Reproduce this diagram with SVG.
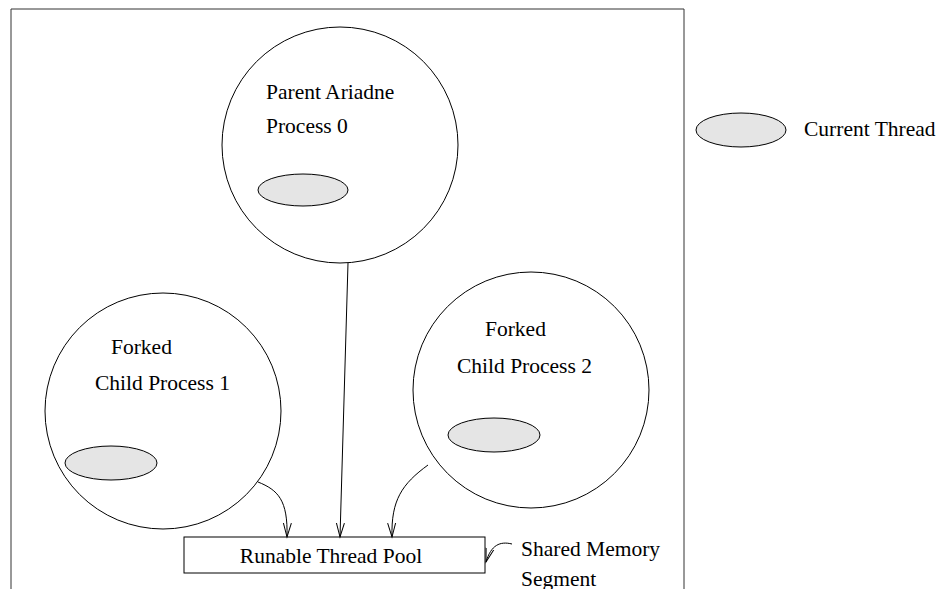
<svg xmlns="http://www.w3.org/2000/svg" width="939" height="589" viewBox="0 0 939 589">
  <defs>
    <style>
      .proc { fill: none; stroke: #000; stroke-width: 1; }
      .thread { fill: #e5e5e5; stroke: #000; stroke-width: 1; }
      .lbl { font-size: 21.5px; fill: #000; }
      .conn { fill: none; stroke: #000; stroke-width: 1; }
    </style>
    <marker id="arrowV" markerWidth="16" markerHeight="10" refX="14" refY="5" orient="auto" markerUnits="userSpaceOnUse">
      <path d="M0,1 L14,5 L0,9" fill="none" stroke="#000" stroke-width="1"/>
    </marker>
  </defs>

  <rect width="939" height="589" fill="#fff"/>

  <!-- outer frame (open at the bottom) -->
  <g id="frame">
    <path d="M11,589 L11,9 L684,9 L684,589" fill="none" stroke="#333" stroke-width="1"/>
  </g>

  <g font-family="'Liberation Serif', 'Times New Roman', Times, serif">
    <g id="parent">
      <circle class="proc" cx="340" cy="145" r="118"/>
      <text class="lbl" x="266" y="99">Parent Ariadne</text>
      <text class="lbl" x="266" y="133">Process 0</text>
      <ellipse class="thread" cx="303" cy="190" rx="45" ry="16"/>
    </g>

    <g id="child1">
      <circle class="proc" cx="163" cy="411" r="118"/>
      <text class="lbl" x="111" y="354">Forked</text>
      <text class="lbl" x="95" y="390">Child Process 1</text>
      <ellipse class="thread" cx="111" cy="463" rx="46" ry="17"/>
    </g>

    <g id="child2">
      <circle class="proc" cx="531" cy="390" r="118"/>
      <text class="lbl" x="485" y="336">Forked</text>
      <text class="lbl" x="457" y="373">Child Process 2</text>
      <ellipse class="thread" cx="494" cy="435" rx="46" ry="17"/>
    </g>

    <g id="pool">
      <rect x="184" y="537" width="301" height="36" fill="#fff" stroke="#000" stroke-width="1"/>
      <text class="lbl" x="331" y="563" text-anchor="middle">Runable Thread Pool</text>
    </g>

    <g id="shared-memory">
      <text class="lbl" x="521" y="556">Shared Memory</text>
      <text class="lbl" x="521" y="586">Segment</text>
    </g>

    <g id="legend">
      <ellipse class="thread" cx="741" cy="130" rx="45" ry="17"/>
      <text class="lbl" x="804" y="136">Current Thread</text>
    </g>
  </g>

  <g id="connectors">
    <path class="conn" d="M348,263 L340,537" marker-end="url(#arrowV)"/>
    <path class="conn" d="M258,482 C278,490 288,500 287,537" marker-end="url(#arrowV)"/>
    <path class="conn" d="M428,465 C402,484 391,500 392,537" marker-end="url(#arrowV)"/>
    <path class="conn" d="M512,544 C500,541 491,545 486,562" marker-end="url(#arrowV)"/>
  </g>
</svg>
